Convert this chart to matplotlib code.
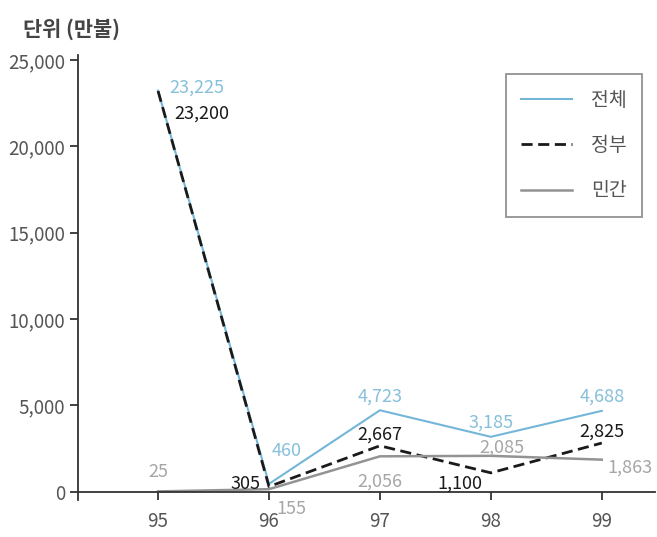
import matplotlib
matplotlib.use('Agg')
import matplotlib.pyplot as plt
from matplotlib.ticker import FuncFormatter

plt.rcParams['font.family'] = ['Noto Sans CJK KR', 'DejaVu Sans']

years = [95, 96, 97, 98, 99]
total = [23225, 460, 4723, 3185, 4688]
gov = [23200, 305, 2667, 1100, 2825]
private = [25, 155, 2056, 2085, 1863]
names = ['전체', '정부', '민간']

blue = '#74b6d8'
blue_txt = '#86c0da'
gray = '#939393'
gray_txt = '#a6a6a6'

fig = plt.figure(figsize=(6.57, 5.37), dpi=100)
ax = fig.add_axes([0.119, 0.068, 0.878, 0.830])

ax.plot(years, total, color=blue, lw=1.5, label=names[0])
ax.plot(years, gov, color='#1a1a1a', lw=2.0, ls=(0, (4, 2)), label=names[1])
ax.plot(years, private, color=gray, lw=1.8, label=names[2])

# value labels: (offset x, offset y, ha)
tot_off = [(8, 2, 'left'), (2, 24, 'left'), (0, 10, 'center'), (0, 10, 'center'), (0, 10, 'center')]
gov_off = [(12, -16, 'left'), (-6, 2, 'right'), (0, 8, 'center'), (-6, -8, 'right'), (0, 8, 'center')]
pri_off = [(0, 14, 'center'), (5, -14, 'left'), (0, -18, 'center'), (8, 6, 'center'), (4, -6, 'left')]

def put_labels(vals, offs, col):
    for x, v, (dx, dy, ha) in zip(years, vals, offs):
        ax.annotate(f'{v:,}', (x, v), xytext=(dx, dy), textcoords='offset points',
                    ha=ha, va='center', fontsize=13, color=col)

put_labels(total, tot_off, blue_txt)
put_labels(gov, gov_off, '#1a1a1a')
put_labels(private, pri_off, gray_txt)

ax.set_xlim(94.28, 99.48)
ax.set_ylim(-500, 25300)
ax.set_xticks(years)
ax.set_xticklabels([str(y) for y in years])
ax.set_yticks(range(0, 25001, 5000))
ax.yaxis.set_major_formatter(FuncFormatter(lambda v, p: f'{int(v):,}'))

ax.spines['top'].set_visible(False)
ax.spines['right'].set_visible(False)
ax.spines['bottom'].set_position(('data', 0))
for s in ['left', 'bottom']:
    ax.spines[s].set_color('#333333')
    ax.spines[s].set_linewidth(1.3)
ax.tick_params(axis='both', direction='out', length=6, width=1.3, color='#333333',
               labelsize=13.5, labelcolor='#555555')
ax.tick_params(axis='x', pad=8)

leg = ax.legend(loc='upper right', bbox_to_anchor=(0.985, 0.965), frameon=True, fancybox=False,
                handlelength=2.6, labelspacing=1.25, borderpad=0.8, handletextpad=1.0,
                borderaxespad=0.2, prop={'family': ['Noto Sans CJK KR'], 'size': 14})
leg.get_frame().set_edgecolor('#777777')
leg.get_frame().set_linewidth(1.3)
for t in leg.get_texts():
    t.set_color('#555555')

fig.text(0.035, 0.945, '단위 (만불)', fontsize=15, fontweight='bold', color='#444444',
         family=['Noto Sans CJK KR'], va='center')

fig.savefig('out.png', dpi=100)
